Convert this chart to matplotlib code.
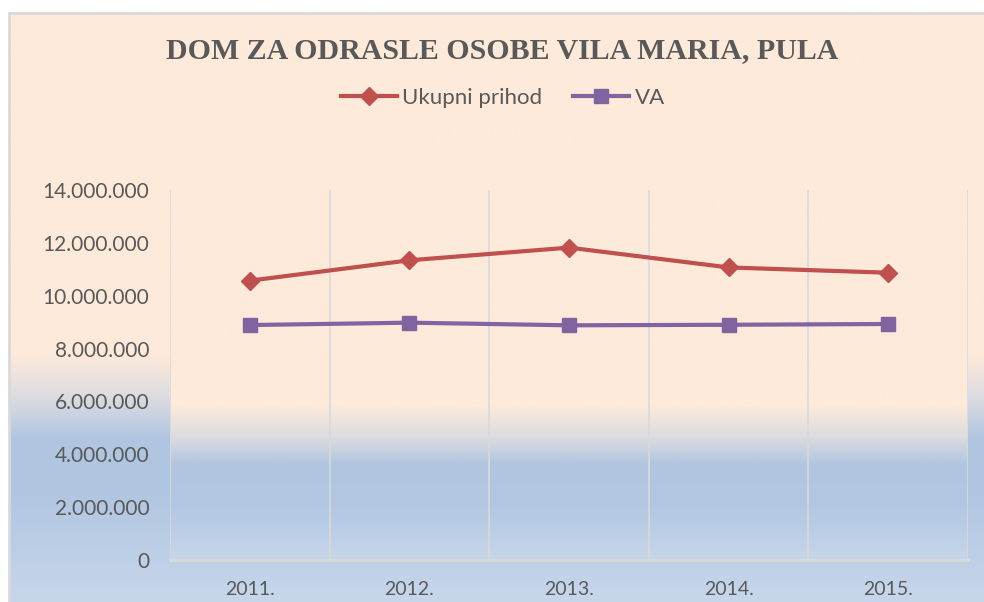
import numpy as np
import matplotlib
matplotlib.use("Agg")
import matplotlib.pyplot as plt
from matplotlib.colors import to_rgb
from matplotlib.patches import Rectangle

# ---- data ----
years = ["2011.", "2012.", "2013.", "2014.", "2015."]
ukupni_prihod = [10570000, 11340000, 11820000, 11070000, 10870000]
va = [8890000, 8980000, 8880000, 8900000, 8930000]
y_ticks = [0, 2000000, 4000000, 6000000, 8000000, 10000000, 12000000, 14000000]
y_tick_labels = ["0", "2.000.000", "4.000.000", "6.000.000", "8.000.000",
                 "10.000.000", "12.000.000", "14.000.000"]
title = "DOM ZA ODRASLE OSOBE VILA MARIA, PULA"
series_names = ["Ukupni prihod", "VA"]

W, H = 984, 602
fig = plt.figure(figsize=(W / 100, H / 100), dpi=100)
fig.patch.set_facecolor("white")

TXT = "#595959"
SANS = ["Lato", "DejaVu Sans"]


def gradient(stops, n=600):
    """stops: list of (fraction from top, color)."""
    fr = np.array([s[0] for s in stops])
    cols = np.array([to_rgb(s[1]) for s in stops])
    t = np.linspace(0, 1, n)
    img = np.stack([np.interp(t, fr, cols[:, k]) for k in range(3)], axis=-1)
    return img[:, None, :]


# ---- chart area background (frame extends past right/bottom edges) ----
cx0, cy0 = 9, 13
cx1, cy1 = W + 20, H + 20
bg = fig.add_axes([cx0 / W, 1 - cy1 / H, (cx1 - cx0) / W, (cy1 - cy0) / H])
bg.set_axis_off()


def f_chart(py):
    return (py - cy0) / (cy1 - cy0)


bg.imshow(gradient([(0, "#FDEADA"), (f_chart(355), "#FDEADA"),
                    (f_chart(395), "#DEDDE0"), (f_chart(440), "#B0C5E0"),
                    (f_chart(495), "#B1C6E1"), (f_chart(602), "#C7D7EB"),
                    (1, "#C8D8EC")]),
          extent=[0, 1, 0, 1], aspect="auto", transform=bg.transAxes, zorder=0)
bg.add_patch(Rectangle((0, 0), 1, 1, transform=bg.transAxes, fill=False,
                       edgecolor="#D9D9D9", lw=2, zorder=2, clip_on=False))
bg.set_xlim(0, 1)
bg.set_ylim(0, 1)

# ---- plot area ----
px0, px1, py0, py1 = 170, 968, 190, 560
ax = fig.add_axes([px0 / W, 1 - py1 / H, (px1 - px0) / W, (py1 - py0) / H])


def f_plot(py):
    return (py - py0) / (py1 - py0)


ax.imshow(gradient([(0, "#FDEADA"), (f_plot(405), "#FDEADA"),
                    (f_plot(437), "#DCDCE0"), (f_plot(465), "#B0C5E0"),
                    (f_plot(505), "#B2C7E2"), (1, "#C6D6EA")]),
          extent=[0, 1, 0, 1], aspect="auto", transform=ax.transAxes, zorder=0)

x = np.arange(len(years))
ax.plot(x, ukupni_prihod, color="#C0504D", lw=3, marker="D", markersize=9,
        label=series_names[0], zorder=4)
ax.plot(x, va, color="#8064A2", lw=3, marker="s", markersize=10,
        label=series_names[1], zorder=4)

ax.set_xlim(-0.5, len(years) - 0.5)
ax.set_ylim(y_ticks[0], y_ticks[-1])
ax.set_xticks(x)
ax.set_xticklabels(years, fontsize=14, color=TXT, family=SANS)
ax.tick_params(axis="both", length=0)
ax.set_yticks(y_ticks)
ax.set_yticklabels(y_tick_labels, fontsize=15, color=TXT, family=SANS)
ax.tick_params(axis="y", pad=15)
ax.tick_params(axis="x", pad=15)

for b in np.arange(-0.5, len(years), 1.0):
    ax.axvline(b, color="#D9D9D9", lw=1.2, zorder=1)
for s in ["top", "right", "left"]:
    ax.spines[s].set_visible(False)
ax.spines["bottom"].set_color("#D9D9D9")
ax.spines["bottom"].set_linewidth(2)
ax.patch.set_alpha(0)

# ---- title ----
fig.text(502 / W, 1 - 51 / H, title, ha="center", va="center",
         fontsize=21.5, fontweight="bold", color=TXT,
         family=["Liberation Serif", "DejaVu Serif"])

# ---- legend ----
leg = fig.legend(loc="center", bbox_to_anchor=(503 / W, 1 - 98 / H), ncol=2,
                 frameon=False, handlelength=2.5, handletextpad=0.25,
                 columnspacing=1.4, prop={"family": SANS, "size": 16})
for t in leg.get_texts():
    t.set_color(TXT)

fig.savefig("out.png", dpi=100)
